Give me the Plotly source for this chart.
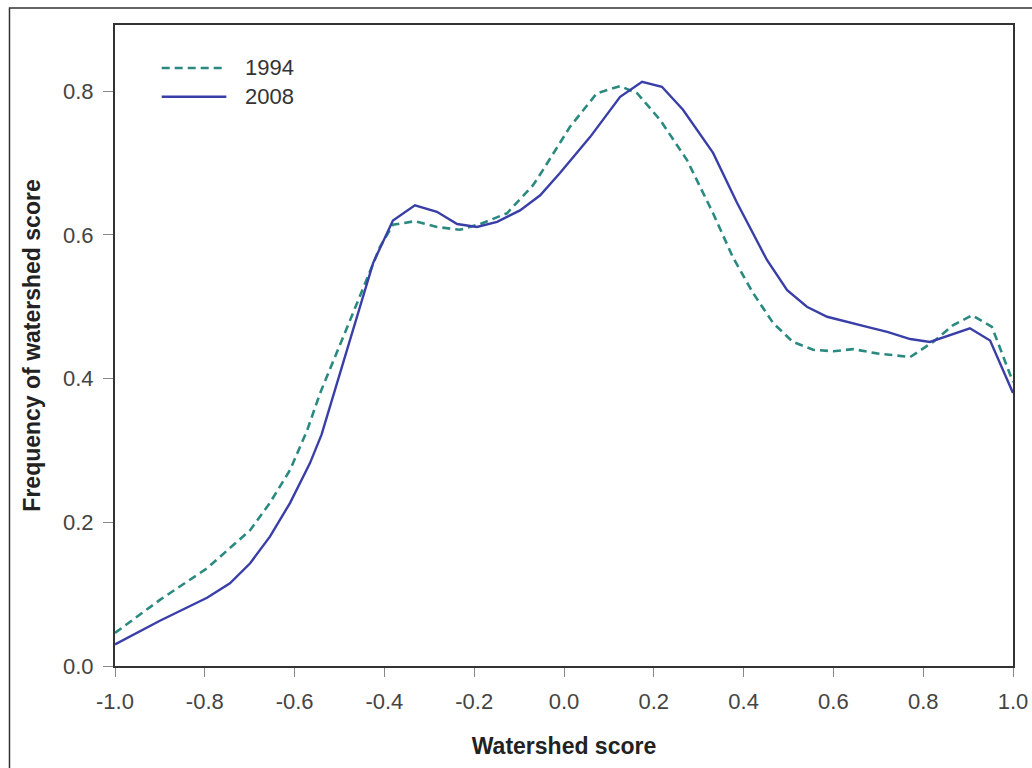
import plotly.graph_objects as go

# 1994 series (dashed)
x_1994 = [-1.0, -0.9, -0.795, -0.699, -0.655, -0.61, -0.572, -0.543, -0.47, -0.41,
          -0.381, -0.332, -0.283, -0.232, -0.187, -0.127, -0.069, -0.047, 0.013, 0.073,
          0.125, 0.163, 0.214, 0.274, 0.332, 0.376, 0.421, 0.466, 0.51, 0.555,
          0.6, 0.644, 0.697, 0.771, 0.822, 0.866, 0.909, 0.953, 1.0]
y_1994 = [0.046, 0.092, 0.136, 0.189, 0.227, 0.273, 0.328, 0.380, 0.491, 0.583,
          0.614, 0.619, 0.611, 0.607, 0.615, 0.630, 0.669, 0.690, 0.750, 0.797,
          0.807, 0.797, 0.760, 0.704, 0.630, 0.569, 0.519, 0.477, 0.451, 0.440,
          0.438, 0.441, 0.435, 0.430, 0.451, 0.474, 0.488, 0.472, 0.395]

# 2008 series (solid)
x_2008 = [-1.0, -0.9, -0.795, -0.744, -0.699, -0.655, -0.61, -0.566, -0.54, -0.499,
          -0.425, -0.381, -0.332, -0.283, -0.238, -0.194, -0.149, -0.098, -0.053, -0.009,
          0.058, 0.125, 0.174, 0.218, 0.265, 0.332, 0.385, 0.452, 0.497, 0.541,
          0.586, 0.675, 0.72, 0.771, 0.815, 0.904, 0.949, 1.0]
y_2008 = [0.030, 0.063, 0.095, 0.115, 0.143, 0.180, 0.227, 0.282, 0.322, 0.408,
          0.561, 0.620, 0.641, 0.632, 0.615, 0.611, 0.618, 0.634, 0.655, 0.686,
          0.736, 0.792, 0.813, 0.806, 0.774, 0.714, 0.645, 0.565, 0.523, 0.500,
          0.486, 0.472, 0.465, 0.455, 0.451, 0.470, 0.453, 0.380]

series_names = ["1994", "2008"]
x_ticks = [-1.0, -0.8, -0.6, -0.4, -0.2, 0.0, 0.2, 0.4, 0.6, 0.8, 1.0]
x_ticklabels = ["-1.0", "-0.8", "-0.6", "-0.4", "-0.2", "0.0", "0.2", "0.4", "0.6", "0.8", "1.0"]
y_ticks = [0.0, 0.2, 0.4, 0.6, 0.8]
y_ticklabels = ["0.0", "0.2", "0.4", "0.6", "0.8"]

c1994 = "#2b8a80"
c2008 = "#3a3fa8"
dash_1994 = "8px,5px"

fig = go.Figure()
fig.add_trace(go.Scatter(x=x_1994, y=y_1994, mode="lines", name=series_names[0],
                         line=dict(color=c1994, width=2.6, dash=dash_1994)))
fig.add_trace(go.Scatter(x=x_2008, y=y_2008, mode="lines", name=series_names[1],
                         line=dict(color=c2008, width=2.4)))

FONT = "Liberation Sans, Arial, sans-serif"
axis_font = dict(family=FONT, size=22, color="#444")
title_font = dict(family=FONT, size=23, color="#222")

fig.update_layout(
    width=1032, height=768,
    margin=dict(l=115, r=19, t=25, b=102),
    paper_bgcolor="white", plot_bgcolor="white",
    showlegend=False,
    xaxis=dict(range=[-1, 1], tickvals=x_ticks, ticktext=x_ticklabels,
               showgrid=False, zeroline=False, automargin=False,
               showline=True, linecolor="#333", linewidth=2, mirror=True,
               ticks="outside", ticklen=9, tickcolor="#888", tickwidth=1,
               tickfont=axis_font, ticklabelstandoff=6,
               title=dict(text="<b>Watershed score</b>", font=title_font, standoff=24)),
    yaxis=dict(range=[0, 0.892], tickvals=y_ticks, ticktext=y_ticklabels,
               showgrid=False, zeroline=False, automargin=False,
               showline=True, linecolor="#333", linewidth=2, mirror=True,
               ticks="outside", ticklen=10, tickcolor="#888", tickwidth=1,
               tickfont=axis_font, ticklabelstandoff=5,
               title=dict(text="<b>Frequency of watershed score</b>", font=title_font, standoff=16)),
)

# outer frame of the figure
fig.add_shape(type="rect", xref="paper", yref="paper",
              x0=-0.1175, x1=1.1, y0=-0.4, y1=1.0265,
              line=dict(color="#333", width=1.5), layer="below")

# custom legend
leg_y = [0.933, 0.888]
leg_colors = [c1994, c2008]
leg_dash = [dash_1994, "solid"]
for name, yy, col, dsh in zip(series_names, leg_y, leg_colors, leg_dash):
    fig.add_shape(type="line", xref="paper", yref="paper",
                  x0=0.052, x1=0.124, y0=yy, y1=yy,
                  line=dict(color=col, width=2.6, dash=dsh))
    fig.add_annotation(xref="paper", yref="paper", x=0.143, y=yy, text=name,
                       showarrow=False, xanchor="left", yanchor="middle",
                       font=dict(family=FONT, size=22, color="#333"))

fig.write_html("out.html", config={"displayModeBar": False},
               post_script="document.body.style.margin='0';document.body.style.overflow='hidden';")
